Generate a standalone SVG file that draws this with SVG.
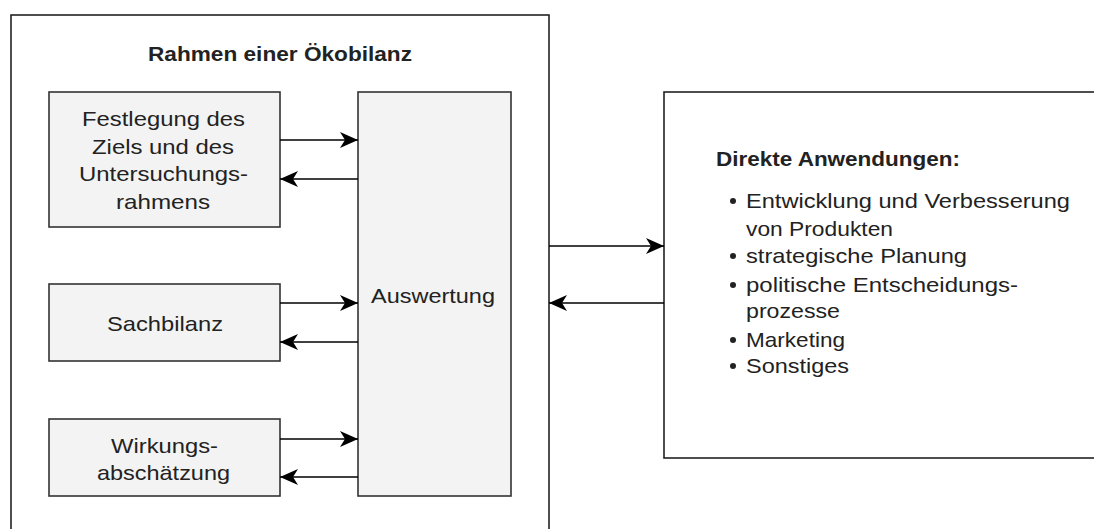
<svg xmlns="http://www.w3.org/2000/svg" width="1094" height="529" viewBox="0 0 1094 529">
  <defs>
    <marker id="arr" markerUnits="userSpaceOnUse" markerWidth="20" markerHeight="18" refX="18" refY="8" orient="auto">
      <path d="M0,0 L18,8 L0,16 L5,8 z" fill="#000"/>
    </marker>
    <style>
      .frame { fill: #fff; stroke: #222; stroke-width: 1.6; }
      .box { fill: #f3f3f3; stroke: #333; stroke-width: 1.6; }
      .t { font-family: "Liberation Sans", Arial, sans-serif; font-size: 21px; fill: #222; }
      .b { font-weight: bold; font-size: 20px; }
      .conn { stroke: #000; stroke-width: 1.6; fill: none; marker-end: url(#arr); }
    </style>
  </defs>
  <rect width="1094" height="529" fill="#fff"/>

  <g id="rahmen">
    <rect class="frame" x="11" y="15" width="538" height="600"/>
    <text class="t b" x="148" y="61" textLength="264" lengthAdjust="spacingAndGlyphs">Rahmen einer Ökobilanz</text>
  </g>

  <g id="festlegung">
    <rect class="box" x="49" y="92" width="231" height="135"/>
    <text class="t" x="82" y="126" textLength="163" lengthAdjust="spacingAndGlyphs">Festlegung des</text>
    <text class="t" x="92" y="153.5" textLength="142" lengthAdjust="spacingAndGlyphs">Ziels und des</text>
    <text class="t" x="79" y="181" textLength="169" lengthAdjust="spacingAndGlyphs">Untersuchungs-</text>
    <text class="t" x="116" y="208.5" textLength="94" lengthAdjust="spacingAndGlyphs">rahmens</text>
  </g>

  <g id="sachbilanz">
    <rect class="box" x="49" y="284" width="231" height="77"/>
    <text class="t" x="107" y="331" textLength="116" lengthAdjust="spacingAndGlyphs">Sachbilanz</text>
  </g>

  <g id="wirkung">
    <rect class="box" x="49" y="419" width="231" height="77"/>
    <text class="t" x="111" y="453" textLength="107" lengthAdjust="spacingAndGlyphs">Wirkungs-</text>
    <text class="t" x="97" y="480" textLength="133" lengthAdjust="spacingAndGlyphs">abschätzung</text>
  </g>

  <g id="auswertung">
    <rect class="box" x="358" y="92" width="153" height="404"/>
    <text class="t" x="371" y="303" textLength="124" lengthAdjust="spacingAndGlyphs">Auswertung</text>
  </g>

  <g id="anwendungen">
    <rect class="frame" x="664" y="92" width="500" height="366"/>
    <text class="t b" x="716" y="166" textLength="244" lengthAdjust="spacingAndGlyphs">Direkte Anwendungen:</text>
    <g class="t">
      <circle cx="733" cy="201" r="3" fill="#222"/>
      <text x="746" y="208" textLength="324" lengthAdjust="spacingAndGlyphs">Entwicklung und Verbesserung</text>
      <text x="746" y="236" textLength="147" lengthAdjust="spacingAndGlyphs">von Produkten</text>
      <circle cx="733" cy="256" r="3" fill="#222"/>
      <text x="746" y="263" textLength="221" lengthAdjust="spacingAndGlyphs">strategische Planung</text>
      <circle cx="733" cy="285" r="3" fill="#222"/>
      <text x="746" y="292" textLength="272" lengthAdjust="spacingAndGlyphs">politische Entscheidungs-</text>
      <text x="746" y="318" textLength="94" lengthAdjust="spacingAndGlyphs">prozesse</text>
      <circle cx="733" cy="340" r="3" fill="#222"/>
      <text x="746" y="347" textLength="99" lengthAdjust="spacingAndGlyphs">Marketing</text>
      <circle cx="733" cy="366" r="3" fill="#222"/>
      <text x="746" y="373" textLength="103" lengthAdjust="spacingAndGlyphs">Sonstiges</text>
    </g>
  </g>

  <g id="connectors">
    <line class="conn" x1="280" y1="140" x2="358" y2="140"/>
    <line class="conn" x1="358" y1="179" x2="280" y2="179"/>
    <line class="conn" x1="280" y1="303" x2="358" y2="303"/>
    <line class="conn" x1="358" y1="342" x2="280" y2="342"/>
    <line class="conn" x1="280" y1="439" x2="358" y2="439"/>
    <line class="conn" x1="358" y1="477" x2="280" y2="477"/>
    <line class="conn" x1="549" y1="246" x2="664" y2="246"/>
    <line class="conn" x1="664" y1="303" x2="549" y2="303"/>
  </g>
</svg>
